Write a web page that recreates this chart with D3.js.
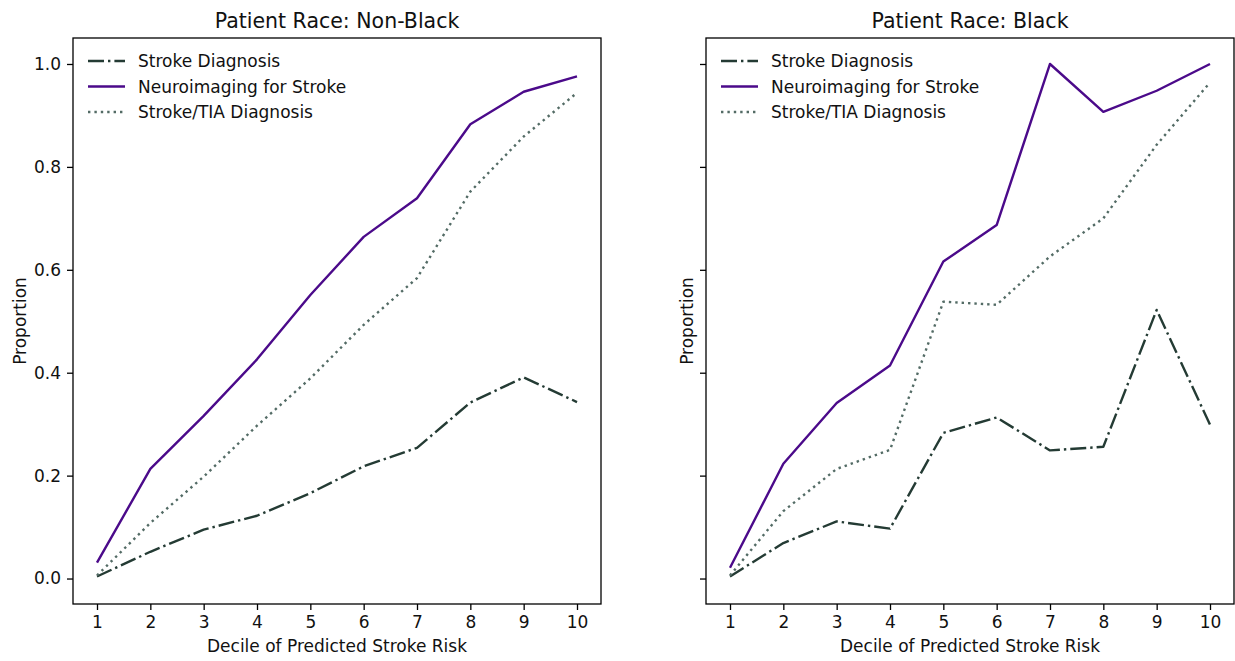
<!DOCTYPE html>
<html>
<head>
<meta charset="utf-8">
<script src="https://cdn.jsdelivr.net/npm/d3@7"></script>
<style>
  body { margin: 0; background: #fff; }
  svg { display: block; font-family: "DejaVu Sans", sans-serif; }
</style>
</head>
<body>
<script>
// deciles on x
const deciles = [1, 2, 3, 4, 5, 6, 7, 8, 9, 10];
const yTicks = [0.0, 0.2, 0.4, 0.6, 0.8, 1.0];

// Non-Black
const nbStroke = [0.004, 0.052, 0.095, 0.122, 0.166, 0.218, 0.254, 0.342, 0.391, 0.343];
const nbImaging = [0.031, 0.213, 0.316, 0.426, 0.551, 0.664, 0.739, 0.883, 0.946, 0.976];
const nbTia = [0.006, 0.108, 0.198, 0.297, 0.389, 0.493, 0.584, 0.752, 0.859, 0.944];

// Black
const bStroke = [0.004, 0.069, 0.111, 0.097, 0.283, 0.313, 0.249, 0.256, 0.522, 0.299];
const bImaging = [0.021, 0.223, 0.341, 0.414, 0.616, 0.687, 1.0, 0.907, 0.948, 1.0];
const bTia = [0.006, 0.131, 0.213, 0.25, 0.538, 0.532, 0.626, 0.70, 0.843, 0.964];

const seriesNames = ["Stroke Diagnosis", "Neuroimaging for Stroke", "Stroke/TIA Diagnosis"];

const panels = [
  { title: "Patient Race: Non-Black", left: 73, series: [nbStroke, nbImaging, nbTia], yLabels: true },
  { title: "Patient Race: Black", left: 706, series: [bStroke, bImaging, bTia], yLabels: false }
];

const lw = 2.4;
const styles = [
  { color: "#243b34", dash: "16,4,2.4,4" },
  { color: "#4b0a8a", dash: null },
  { color: "#536b65", dash: "2.4,4" }
];

const width = 1235, height = 661;
const plotTop = 38, plotBottom = 604, pw = 528;
const fs = 17;

const svg = d3.select("body").append("svg")
  .attr("width", width)
  .attr("height", height);

const y = d3.scaleLinear().domain([-0.0495, 1.0505]).range([plotBottom, plotTop]);

panels.forEach(p => {
  const x = d3.scaleLinear().domain([0.55, 10.45]).range([p.left, p.left + pw]);
  const g = svg.append("g");

  // lines
  const line = d3.line().x((d, i) => x(deciles[i])).y(d => y(d));
  p.series.forEach((s, k) => {
    g.append("path")
      .datum(s)
      .attr("d", line)
      .attr("fill", "none")
      .attr("stroke", styles[k].color)
      .attr("stroke-width", lw)
      .attr("stroke-dasharray", styles[k].dash)
      .attr("stroke-linejoin", "round");
  });

  // axes
  const xAxis = d3.axisBottom(x).tickValues(deciles).tickSize(6).tickPadding(6);
  const gx = g.append("g").attr("transform", `translate(0,${plotBottom})`).call(xAxis);
  const yAxis = d3.axisLeft(y).tickValues(yTicks).tickSize(6).tickPadding(6)
    .tickFormat(p.yLabels ? d3.format(".1f") : () => "");
  const gy = g.append("g").attr("transform", `translate(${p.left},0)`).call(yAxis);
  [gx, gy].forEach(a => {
    a.select(".domain").remove();
    a.selectAll("line").attr("stroke", "#000").attr("stroke-width", 1.3);
    a.selectAll("text").attr("font-size", fs).attr("fill", "#111")
      .attr("font-family", "DejaVu Sans");
  });

  // frame
  g.append("rect")
    .attr("x", p.left).attr("y", plotTop)
    .attr("width", pw).attr("height", plotBottom - plotTop)
    .attr("fill", "none").attr("stroke", "#000").attr("stroke-width", 1.3);

  // titles and labels
  g.append("text")
    .attr("x", p.left + pw / 2).attr("y", 28)
    .attr("text-anchor", "middle").attr("font-size", 20.5).attr("fill", "#111")
    .text(p.title);
  g.append("text")
    .attr("x", p.left + pw / 2).attr("y", 652)
    .attr("text-anchor", "middle").attr("font-size", fs).attr("fill", "#111")
    .text("Decile of Predicted Stroke Risk");
  g.append("text")
    .attr("transform", `translate(${p.left - (p.yLabels ? 47 : 13)},${(plotTop + plotBottom) / 2}) rotate(-90)`)
    .attr("text-anchor", "middle").attr("font-size", fs).attr("fill", "#111")
    .text("Proportion");

  // legend
  const lg = g.append("g").attr("transform", `translate(${p.left + 15},61)`);
  seriesNames.forEach((name, k) => {
    const row = lg.append("g").attr("transform", `translate(0,${k * 25.5})`);
    row.append("line")
      .attr("x1", 0).attr("x2", 37).attr("y1", 0).attr("y2", 0)
      .attr("stroke", styles[k].color).attr("stroke-width", lw)
      .attr("stroke-dasharray", styles[k].dash);
    row.append("text")
      .attr("x", 50).attr("y", 6)
      .attr("font-size", fs).attr("fill", "#111")
      .text(name);
  });
});
</script>
</body>
</html>
